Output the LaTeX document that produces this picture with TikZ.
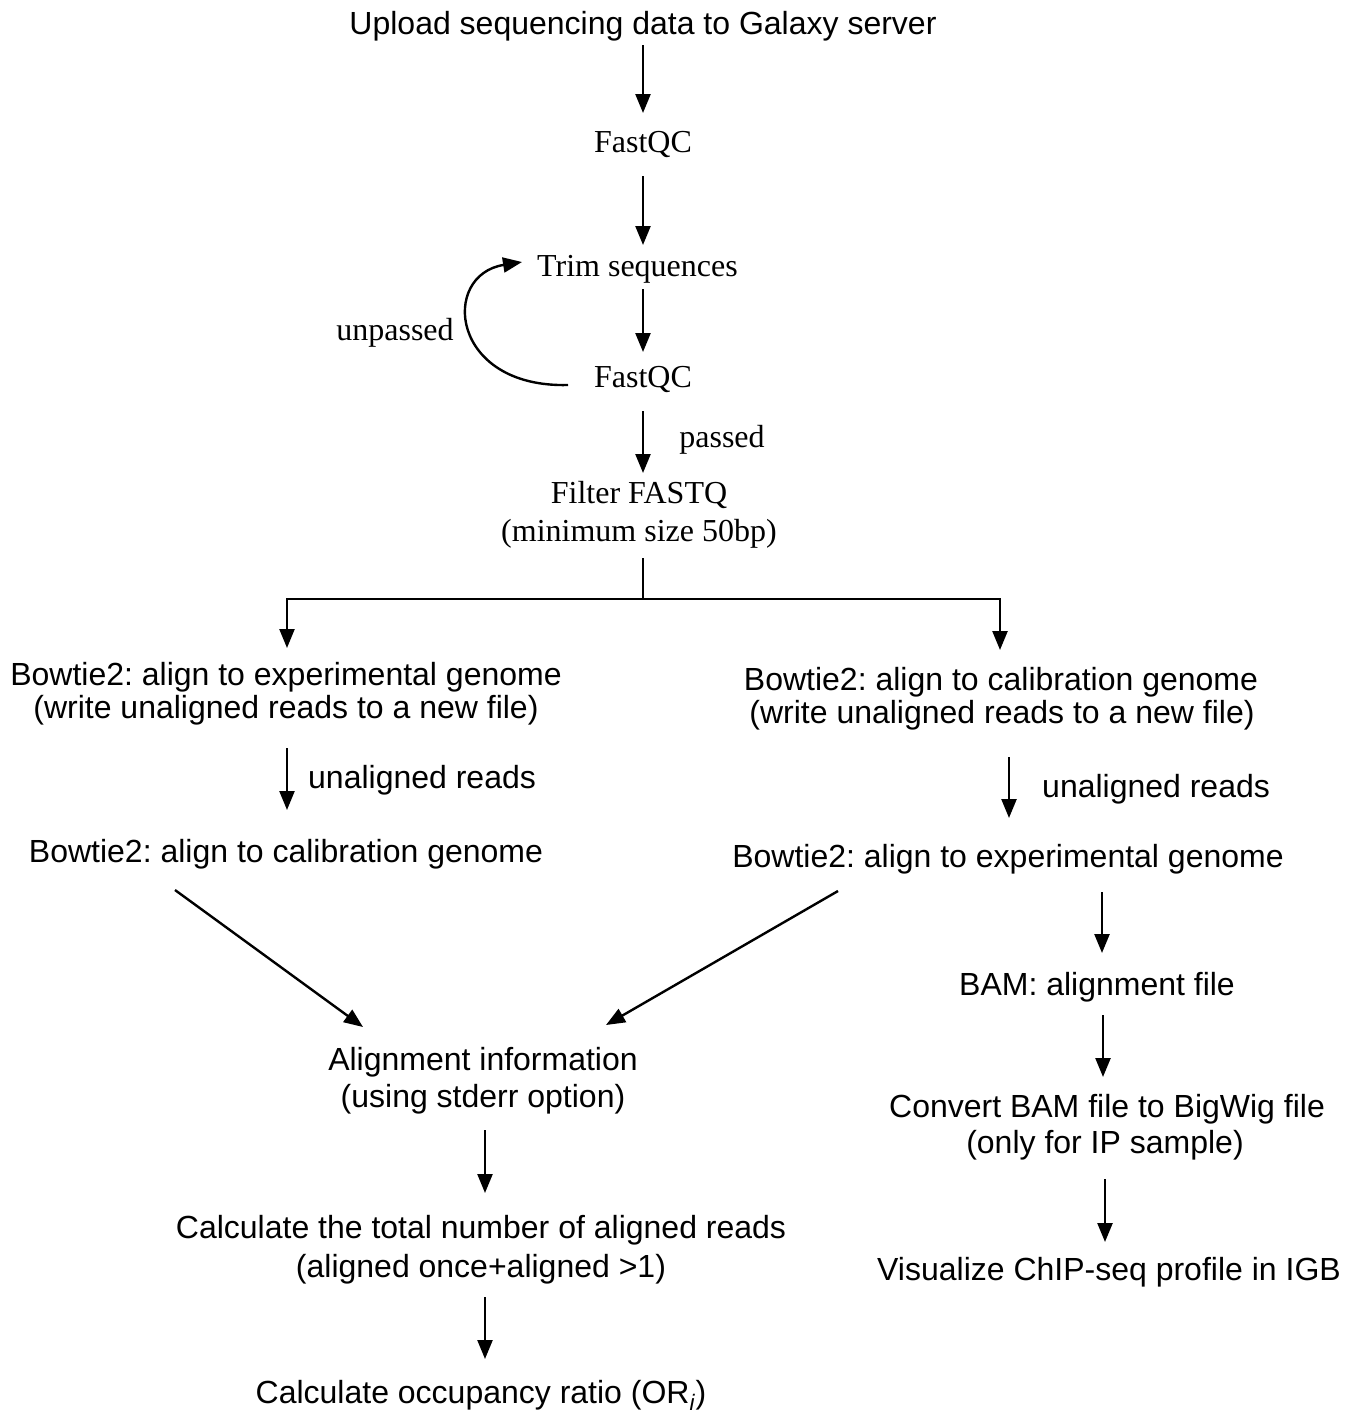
\documentclass[tikz,border=0pt]{standalone}
\usepackage{fontspec}
\setmainfont{Liberation Serif}
\setsansfont{Liberation Sans}
\usetikzlibrary{arrows.meta,calc}
\frenchspacing
\tikzset{
  sanstxt/.style={inner sep=0pt, anchor=base, font=\sffamily\fontsize{32}{38}\selectfont},
  seriftxt/.style={inner sep=0pt, anchor=base, font=\rmfamily\fontsize{32}{38}\selectfont},
  tip/.style={-{Triangle[length=19pt,width=15pt]}},
  arr/.style={line width=2.4pt, tip},
  plain/.style={line width=2.4pt},
  thin/.style={line width=1.2pt}
}
\begin{document}
\begin{tikzpicture}[x=1pt,y=-1pt]
\useasboundingbox (0,0) rectangle (1358,1414);
% top chain
\node[sanstxt] (up) at (643,34) {Upload sequencing data to Galaxy server};
\node[seriftxt] (fq1) at (643,152) {FastQC};
\node[seriftxt] (trim) at (637.5,276) {Trim sequences};
\node[seriftxt] (fq2) at (643,387) {FastQC};
\node[seriftxt] (unp) at (395,340) {unpassed};
\node[seriftxt] (pas) at (722,447) {passed};
\node[seriftxt] (filt1) at (639,503) {Filter FASTQ};
\node[seriftxt] (filt2) at (639,541) {(minimum size 50bp)};
% left column
\node[sanstxt] (l1a) at (286,685) {Bowtie2: align to experimental genome};
\node[sanstxt] (l1b) at (286,718) {(write unaligned reads to a new file)};
\node[sanstxt, anchor=base west] (lu) at (308,788) {unaligned reads};
\node[sanstxt] (l2) at (286,862) {Bowtie2: align to calibration genome};
% right column
\node[sanstxt] (r1a) at (1001,690) {Bowtie2: align to calibration genome};
\node[sanstxt] (r1b) at (1002,723) {(write unaligned reads to a new file)};
\node[sanstxt, anchor=base west] (ru) at (1042,797) {unaligned reads};
\node[sanstxt] (r2) at (1008,867) {Bowtie2: align to experimental genome};
\node[sanstxt] (bam) at (1097,995) {BAM: alignment file};
\node[sanstxt] (cv1) at (1107,1117) {Convert BAM file to BigWig file};
\node[sanstxt] (cv2) at (1105,1153) {(only for IP sample)};
\node[sanstxt] (vis) at (1109,1280) {Visualize ChIP-seq profile in IGB};
% middle bottom
\node[sanstxt] (al1) at (483,1070) {Alignment information};
\node[sanstxt] (al2) at (483,1107) {(using stderr option)};
\node[sanstxt] (ct1) at (481,1238) {Calculate the total number of aligned reads};
\node[sanstxt] (ct2) at (481,1277) {(aligned once+aligned >1)};
\node[sanstxt] (orn) at (481,1403) {Calculate occupancy ratio (OR\textsubscript{\textit{i}})};
% connectors
\draw[arr] ($(up.base)+(0,11)$) -- ($(fq1.base)+(0,-39)$);
\draw[arr] ($(fq1.base)+(0,24)$) -- ($(fq1.base |- trim.base)+(0,-31)$);
\draw[arr] ($(fq2.base |- trim.base)+(0,13)$) -- ($(fq2.base)+(0,-35)$);
\draw[plain, tip] ($(fq2.base)+(-75,-2)$) .. controls ($(fq2.base)+(-193,1)$) and ($(trim.base)+(-197.5,-1)$) .. ($(trim.base)+(-115.5,-14)$);
\draw[arr] ($(fq2.base)+(0,24)$) -- ($(fq2.base |- filt1.base)+(0,-30)$);
\draw[thin] ($(fq2.base |- filt2.base)+(0,17)$) -- ($(fq2.base |- filt2.base)+(0,58)$) coordinate (br);
\draw[arr] (br) -| ($(l1a.base)+(1,-37)$);
\draw[arr] (br) -| ($(r1a.base)+(-1,-40)$);
\draw[arr] ($(l1b.base)+(1,30)$) -- ($(l2.base)+(1,-52)$);
\draw[arr] ($(r1b.base)+(7,34)$) -- ($(r2.base)+(1,-49)$);
\draw[arr] ($(l2.base)+(-111,28)$) -- ($(al1.base)+(-120,-43)$);
\draw[arr] ($(r2.base)+(-170,24)$) -- ($(al1.base)+(123,-45)$);
\draw[arr] ($(r2.base)+(94,25)$) -- ($(bam.base)+(5,-42)$);
\draw[arr] ($(bam.base)+(6,20)$) -- ($(cv1.base)+(-4,-40)$);
\draw[arr] ($(cv2.base)+(0,26)$) -- ($(vis.base)+(-4,-38)$);
\draw[arr] ($(al2.base)+(2,23)$) -- ($(ct1.base)+(4,-45)$);
\draw[arr] ($(ct2.base)+(4,20)$) -- ($(orn.base)+(4,-44)$);
\end{tikzpicture}
\end{document}
